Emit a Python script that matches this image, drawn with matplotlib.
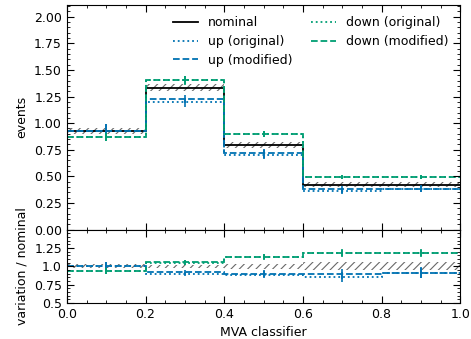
import numpy as np
import matplotlib
matplotlib.use("Agg")
import matplotlib.pyplot as plt
from matplotlib.ticker import MultipleLocator

bin_edges = [0.0, 0.2, 0.4, 0.6, 0.8, 1.0]
nominal = [0.93, 1.335, 0.795, 0.42, 0.42]
nominal_unc = [0.028, 0.03, 0.028, 0.022, 0.022]
up_orig = [0.93, 1.195, 0.705, 0.36, 0.382]
up_orig_unc = [0.06, 0.04, 0.04, 0.03, 0.03]
up_mod = [0.93, 1.225, 0.715, 0.377, 0.384]
up_mod_unc = [0.06, 0.04, 0.04, 0.03, 0.03]
down_orig = [0.868, 1.402, 0.898, 0.495, 0.495]
down_orig_unc = [0.04, 0.04, 0.03, 0.02, 0.02]
down_mod = [0.868, 1.405, 0.9, 0.497, 0.497]
down_mod_unc = [0.04, 0.04, 0.03, 0.02, 0.02]
labels = ["nominal", "up (original)", "up (modified)", "down (original)", "down (modified)"]
colors = ["black", "#0072B2", "#0072B2", "#009E73", "#009E73"]
styles = ["-", ":", "--", ":", "--"]

plt.rcParams["font.size"] = 9
plt.rcParams["hatch.linewidth"] = 0.8

edges = np.array(bin_edges)
centers = 0.5 * (edges[1:] + edges[:-1])
widths = np.diff(edges)
nom = np.array(nominal)
nom_unc = np.array(nominal_unc)

fig = plt.figure(figsize=(4.71, 3.39), dpi=100)
ax1 = fig.add_axes([0.142, 0.323, 0.835, 0.662])
ax2 = fig.add_axes([0.142, 0.106, 0.835, 0.217], sharex=ax1)

# nominal uncertainty bands
ax1.bar(centers, 2 * nom_unc, width=widths, bottom=nom - nom_unc, fill=False,
        linewidth=0, edgecolor="dimgray", hatch="////")
rel = nom_unc / nom
ax2.bar(centers, 2 * rel, width=widths, bottom=1 - rel, fill=False,
        linewidth=0, edgecolor="dimgray", hatch="////")

templates = [
    (nominal, nominal_unc),
    (up_orig, up_orig_unc),
    (up_mod, up_mod_unc),
    (down_orig, down_orig_unc),
    (down_mod, down_mod_unc),
]
for i in range(len(templates)):
    y, yerr = np.array(templates[i][0]), np.array(templates[i][1])
    ax1.stairs(y, edges, color=colors[i], linestyle=styles[i], linewidth=1.3,
               label=labels[i], baseline=None)
    if i > 0:
        ax1.errorbar(centers, y, yerr=yerr, fmt="none", color=colors[i], linewidth=1.2)
        r = y / nom
        ax2.stairs(r, edges, color=colors[i], linestyle=styles[i], linewidth=1.3,
                   baseline=None)
        ax2.errorbar(centers, r, yerr=yerr / nom, fmt="none", color=colors[i], linewidth=1.2)

ax1.set_xlim(0, 1)
ax1.set_ylim(0, 2.11)
ax2.set_ylim(0.5, 1.5)
ax1.set_ylabel("events")
ax2.set_ylabel("variation / nominal")
ax2.set_xlabel("MVA classifier")
ax2.set_yticks([0.5, 0.75, 1.0, 1.25])
ax2.set_yticklabels(["0.5", "0.75", "1.0", "1.25"])
ax1.yaxis.set_major_locator(MultipleLocator(0.25))
ax1.yaxis.set_minor_locator(MultipleLocator(0.05))
ax1.xaxis.set_major_locator(MultipleLocator(0.2))
ax1.xaxis.set_minor_locator(MultipleLocator(0.05))
ax2.yaxis.set_minor_locator(MultipleLocator(0.05))
for ax in (ax1, ax2):
    ax.tick_params(which="both", direction="in", top=True, right=True)
    ax.tick_params(which="major", length=5)
    ax.tick_params(which="minor", length=2.5)
ax1.tick_params(labelbottom=False)
fig.align_ylabels([ax1, ax2])

ax1.legend(ncol=2, frameon=False, loc="upper right", fontsize=9,
           handlelength=2.0, columnspacing=1.5, labelspacing=0.45)

fig.savefig("out.png", dpi=100)
